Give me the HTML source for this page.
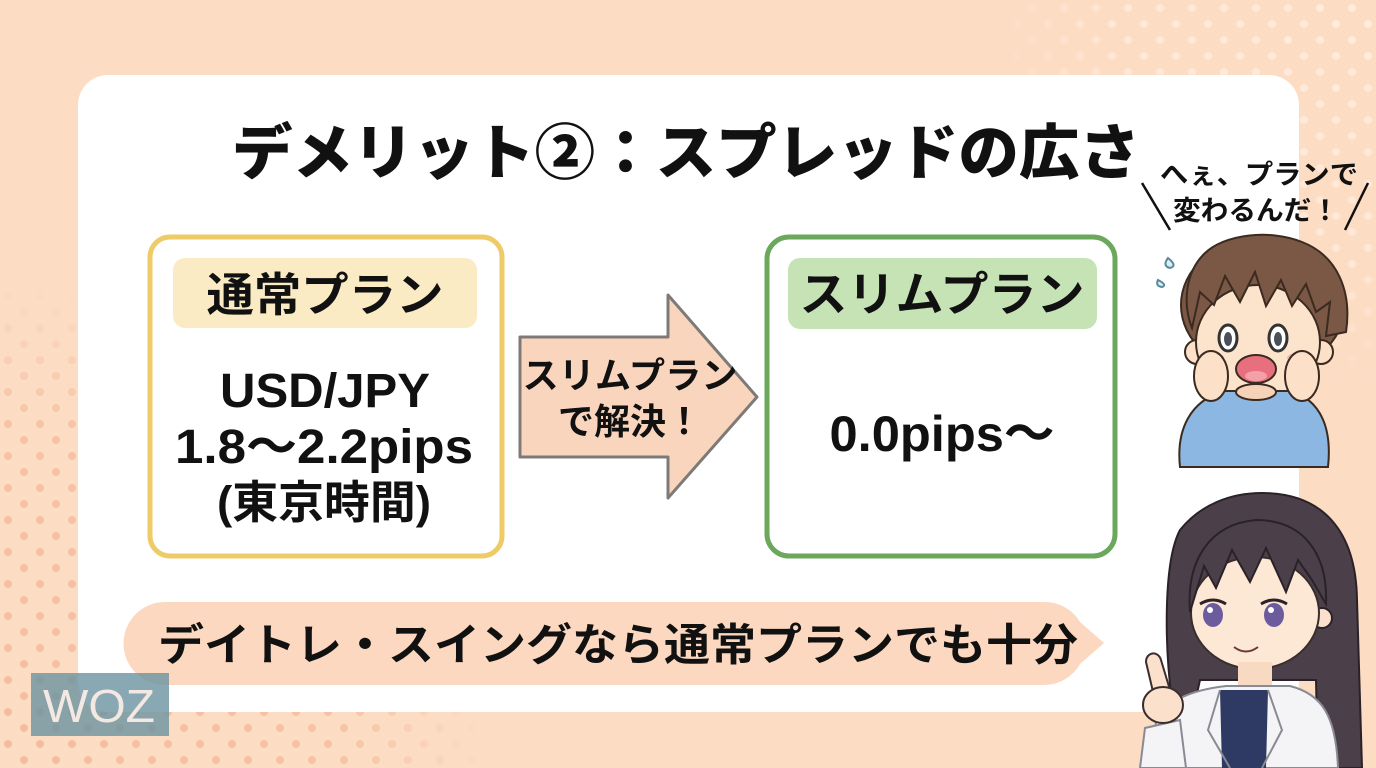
<!DOCTYPE html>
<html lang="ja">
<head>
<meta charset="utf-8">
<style>
html,body{margin:0;padding:0;width:1376px;height:768px;overflow:hidden;background:#FCDCC2;}
svg{display:block;}
text{font-family:"Liberation Sans","Noto Sans CJK JP",sans-serif;font-weight:700;fill:#111;}
</style>
</head>
<body>
<svg width="1376" height="768" viewBox="0 0 1376 768" xmlns="http://www.w3.org/2000/svg">
  <defs>
    <pattern id="dotsA" x="0" y="0" width="32" height="32" patternUnits="userSpaceOnUse">
      <circle cx="8" cy="8" r="4" fill="#F4BC9E"/>
      <circle cx="24" cy="24" r="4" fill="#F4BC9E"/>
    </pattern>
    <pattern id="dotsB" x="0" y="0" width="32" height="32" patternUnits="userSpaceOnUse">
      <circle cx="8" cy="8" r="4" fill="#FFEADC"/>
      <circle cx="24" cy="24" r="4" fill="#FFEADC"/>
    </pattern>
    <radialGradient id="gA" cx="0" cy="768" r="480" gradientUnits="userSpaceOnUse">
      <stop offset="0" stop-color="#fff" stop-opacity="1"/>
      <stop offset="0.7" stop-color="#fff" stop-opacity="0.8"/>
      <stop offset="1" stop-color="#fff" stop-opacity="0"/>
    </radialGradient>
    <radialGradient id="gB" cx="1376" cy="0" r="400" gradientUnits="userSpaceOnUse">
      <stop offset="0" stop-color="#fff" stop-opacity="1"/>
      <stop offset="0.65" stop-color="#fff" stop-opacity="0.8"/>
      <stop offset="1" stop-color="#fff" stop-opacity="0"/>
    </radialGradient>
    <mask id="mA"><rect width="1376" height="768" fill="url(#gA)"/></mask>
    <mask id="mB"><rect width="1376" height="768" fill="url(#gB)"/></mask>
  </defs>

  <!-- background -->
  <rect width="1376" height="768" fill="#FCDCC2"/>
  <rect width="1376" height="768" fill="url(#dotsA)" mask="url(#mA)"/>
  <rect width="1376" height="768" fill="url(#dotsB)" mask="url(#mB)"/>

  <!-- white card -->
  <rect x="78" y="75" width="1221" height="637" rx="30" fill="#FFFFFF"/>

  <!-- title -->
  <text x="232" y="174" font-size="60" style="font-weight:900" textLength="908" lengthAdjust="spacingAndGlyphs">デメリット②：スプレッドの広さ</text>

  <!-- left box -->
  <rect x="150" y="237" width="352" height="319" rx="20" fill="#FFFFFF" stroke="#EFCB68" stroke-width="5"/>
  <rect x="173" y="258" width="304" height="70" rx="12" fill="#FBEBC4"/>
  <text x="325" y="311" font-size="46" text-anchor="middle" textLength="237" lengthAdjust="spacingAndGlyphs">通常プラン</text>
  <text x="325" y="407" font-size="48" text-anchor="middle" textLength="210" lengthAdjust="spacingAndGlyphs">USD/JPY</text>
  <text x="324" y="463" font-size="48" text-anchor="middle" textLength="298" lengthAdjust="spacingAndGlyphs">1.8〜2.2pips</text>
  <text x="324" y="518" font-size="45" text-anchor="middle" textLength="214" lengthAdjust="spacingAndGlyphs">(東京時間)</text>

  <!-- arrow -->
  <polygon points="520,337 668,337 668,295 757,397 668,498 668,457 520,457" fill="#FAD5BD" stroke="#7E7A78" stroke-width="3" stroke-linejoin="round"/>
  <text x="630" y="388" font-size="36" text-anchor="middle" textLength="215" lengthAdjust="spacingAndGlyphs">スリムプラン</text>
  <text x="630" y="434" font-size="36" text-anchor="middle">で解決！</text>

  <!-- right box -->
  <rect x="767" y="237" width="348" height="319" rx="22" fill="#FFFFFF" stroke="#6BA85C" stroke-width="5"/>
  <rect x="788" y="258" width="309" height="71" rx="12" fill="#C6E3B6"/>
  <text x="942" y="311" font-size="47" text-anchor="middle" textLength="285" lengthAdjust="spacingAndGlyphs">スリムプラン</text>
  <text x="942" y="451" font-size="50" text-anchor="middle" textLength="225" lengthAdjust="spacingAndGlyphs">0.0pips〜</text>

  <!-- bottom speech bubble -->
  <path d="M165,602 L1045,602 A41,41 0 0 1 1080,622 L1104,643 L1080,664 A41,41 0 0 1 1045,685 L165,685 A41.5,41.5 0 0 1 165,602 Z" fill="#FBD8BF"/>
  <text x="158" y="660" font-size="44" textLength="920" lengthAdjust="spacingAndGlyphs">デイトレ・スイングなら通常プランでも十分</text>

  <!-- WOZ logo -->
  <rect x="31" y="673" width="138" height="63" fill="#6A93A1" fill-opacity="0.8"/>
  <text x="99" y="722" font-size="46" text-anchor="middle" style="font-weight:400;fill:#F4E8E2" textLength="112" lengthAdjust="spacingAndGlyphs">WOZ</text>

  <!-- boy speech -->
  <text x="1259" y="184" font-size="27" text-anchor="middle" textLength="198" lengthAdjust="spacingAndGlyphs">へぇ、プランで</text>
  <text x="1256" y="220" font-size="27" text-anchor="middle" textLength="166" lengthAdjust="spacingAndGlyphs">変わるんだ！</text>
  <line x1="1142" y1="183" x2="1170" y2="230" stroke="#111" stroke-width="2.5"/>
  <line x1="1368" y1="183" x2="1345" y2="230" stroke="#111" stroke-width="2.5"/>

  <!-- boy -->
  <g stroke="#3A2A20" stroke-width="2">
    <path d="M1168,258 q-6,8 2,10 q8,-2 -2,-10z" fill="#D8EEF6" stroke="#5A8A9A"/>
    <path d="M1158,280 q-3,6 4,7 q6,-2 -4,-7z" fill="#D8EEF6" stroke="#5A8A9A"/>
    <ellipse cx="1263" cy="305" rx="82" ry="68" fill="#7A5845"/>
    <circle cx="1197" cy="352" r="12" fill="#FCE0C8"/>
    <circle cx="1321" cy="352" r="12" fill="#FCE0C8"/>
    <ellipse cx="1258" cy="342" rx="62" ry="57" fill="#FCE3CC"/>
    <path d="M1192,328 L1200,292 L1214,305 L1225,276 L1240,302 L1255,272 L1266,306 L1281,280 L1292,306 L1306,284 L1316,312 L1330,302 L1326,336 L1346,332 C1352,292 1338,256 1302,242 C1270,229 1224,234 1204,254 C1186,272 1182,302 1192,328 Z" fill="#7A5845"/>
    <ellipse cx="1228" cy="338" rx="9" ry="13" fill="#FFFFFF" stroke="#333" stroke-width="3"/>
    <ellipse cx="1278" cy="338" rx="9" ry="13" fill="#FFFFFF" stroke="#333" stroke-width="3"/>
    <ellipse cx="1228" cy="339" rx="4" ry="7" fill="#4A4F5A" stroke="none"/>
    <ellipse cx="1278" cy="339" rx="4" ry="7" fill="#4A4F5A" stroke="none"/>
    <ellipse cx="1214" cy="358" rx="10" ry="5" fill="#F6A9A9" stroke="none" opacity="0.8"/>
    <ellipse cx="1297" cy="358" rx="10" ry="5" fill="#F6A9A9" stroke="none" opacity="0.8"/>
    <path d="M1180,467 C1176,430 1190,400 1225,391 L1290,391 C1322,400 1332,430 1328,467 Z" fill="#8CB7E3"/>
    <ellipse cx="1256" cy="392" rx="20" ry="8" fill="#F6D3B8"/>
    <ellipse cx="1256" cy="369" rx="20" ry="14" fill="#E8707E"/>
    <ellipse cx="1256" cy="376" rx="11" ry="5" fill="#F4A0A8" stroke="none"/>
    <ellipse cx="1211" cy="376" rx="17" ry="25" fill="#FCE0C8"/>
    <ellipse cx="1302" cy="376" rx="17" ry="25" fill="#FCE0C8"/>
  </g>

  <!-- girl -->
  <g stroke="#2A2228" stroke-width="2">
    <path d="M1262,493 C1322,493 1356,530 1357,600 L1362,768 L1318,768 L1316,680 L1200,680 L1192,716 L1172,702 C1164,640 1164,560 1180,530 C1200,505 1230,493 1262,493 Z" fill="#4B4049"/>
    <circle cx="1322" cy="618" r="10" fill="#FBE0CC"/>
    <ellipse cx="1255" cy="613" rx="64" ry="56" fill="#FDE8D6" stroke="#3A2D2D"/>
    <path d="M1190,612 C1186,560 1210,524 1256,520 C1302,520 1328,552 1326,604 L1312,580 L1298,560 L1286,592 L1266,548 L1250,582 L1232,550 L1216,588 L1204,566 Z" fill="#4B4049"/>
    <path d="M1200,604 Q1213,596 1226,604" stroke="#2A2228" stroke-width="3" fill="none"/>
    <path d="M1261,604 Q1274,596 1287,604" stroke="#2A2228" stroke-width="3" fill="none"/>
    <ellipse cx="1213" cy="615" rx="10" ry="12" fill="#6C5C9E" stroke="none"/>
    <ellipse cx="1274" cy="615" rx="10" ry="12" fill="#6C5C9E" stroke="none"/>
    <circle cx="1210" cy="610" r="3" fill="#FFFFFF" stroke="none"/>
    <circle cx="1271" cy="610" r="3" fill="#FFFFFF" stroke="none"/>
    <path d="M1234,647 Q1246,656 1258,647" stroke="#6A3A3A" fill="none"/>
    <rect x="1238" y="662" width="34" height="32" fill="#F8D9C2" stroke="none"/>
    <path d="M1150,768 L1156,722 C1166,700 1192,690 1226,686 L1290,686 C1322,694 1336,716 1338,768 Z" fill="#F4F4F6" stroke="#8A8A95"/>
    <path d="M1220,690 L1268,690 L1266,768 L1222,768 Z" fill="#2E3A63" stroke="none"/>
    <path d="M1220,690 L1208,730 L1230,768" fill="none" stroke="#8A8A95"/>
    <path d="M1268,690 L1282,730 L1262,768" fill="none" stroke="#8A8A95"/>
    <path d="M1140,768 L1145,728 L1180,720 L1186,768 Z" fill="#F4F4F6" stroke="#8A8A95"/>
    <path d="M1146,662 C1146,652 1158,650 1161,660 L1170,690 L1154,696 Z" fill="#FBE0CC" stroke="#3A2D2D"/>
    <ellipse cx="1163" cy="705" rx="20" ry="18" fill="#FBE0CC" stroke="#3A2D2D"/>
  </g>
</svg>
</body>
</html>
